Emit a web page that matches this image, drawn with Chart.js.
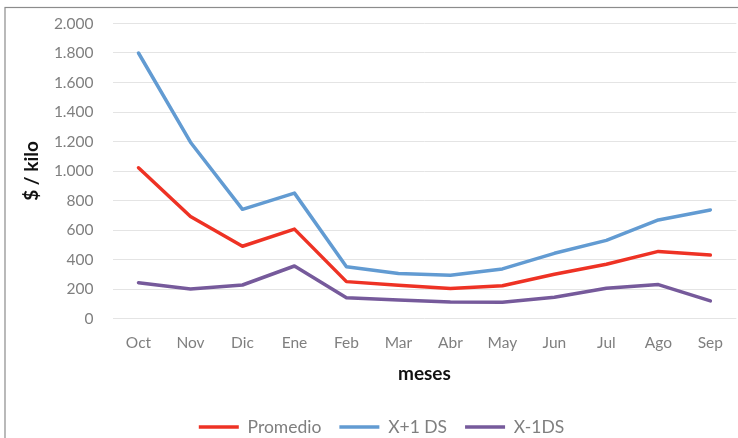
<!DOCTYPE html>
<html>
<head>
<meta charset="utf-8">
<script src="https://cdn.jsdelivr.net/npm/chart.js@4/dist/chart.umd.min.js"></script>
<style>
  html, body { margin: 0; padding: 0; background: #ffffff; }
  #wrap { position: relative; width: 738px; height: 438px; }
</style>
</head>
<body>
<div id="wrap"><canvas id="c" width="738" height="438"></canvas></div>
<script>
// Monthly price per kilo: mean and ±1 standard deviation
const meses = ['Oct', 'Nov', 'Dic', 'Ene', 'Feb', 'Mar', 'Abr', 'May', 'Jun', 'Jul', 'Ago', 'Sep'];
const promedio = [1022, 692, 490, 606, 250, 225, 203, 222, 300, 368, 455, 430];
const masUnaDS = [1800, 1195, 740, 850, 351, 305, 293, 336, 442, 530, 668, 736];
const menosUnaDS = [243, 200, 227, 356, 141, 125, 112, 110, 144, 205, 230, 119];
const yTickLabels = ['0', '200', '400', '600', '800', '1.000', '1.200', '1.400', '1.600', '1.800', '2.000'];

const tickColor = '#7f7f7f';
const fontFamily = 'Lato, "Open Sans", sans-serif';

// Thin gray frame around the chart
const framePlugin = {
  id: 'frame',
  afterDraw(chart) {
    const ctx = chart.ctx;
    ctx.save();
    ctx.strokeStyle = '#8c8c8c';
    ctx.lineWidth = 1.2;
    ctx.strokeRect(5, 7.5, 900, 600);
    ctx.restore();
  }
};

// Nudge the legend row a little to the right of the canvas centre
const legendShift = {
  id: 'legendShift',
  afterLayout(chart) {
    const lg = chart.legend;
    if (lg) { lg.left += 13; lg.right += 13; }
  }
};

const lineWidth = 3.5;

new Chart(document.getElementById('c'), {
  type: 'line',
  data: {
    labels: meses,
    datasets: [
      { label: 'Promedio', data: promedio, borderColor: '#ee3224', backgroundColor: '#ee3224', borderWidth: lineWidth },
      { label: 'X+1 DS', data: masUnaDS, borderColor: '#629bd2', backgroundColor: '#629bd2', borderWidth: lineWidth },
      { label: 'X-1DS', data: menosUnaDS, borderColor: '#765a9b', backgroundColor: '#765a9b', borderWidth: lineWidth }
    ]
  },
  options: {
    responsive: false,
    animation: false,
    devicePixelRatio: 1,
    layout: { padding: { top: 23.5, left: 0, right: 1, bottom: -7.75 } },
    elements: {
      line: { tension: 0, borderCapStyle: 'round', borderJoinStyle: 'round' },
      point: { radius: 0, hoverRadius: 0 }
    },
    plugins: {
      tooltip: { enabled: false },
      legend: {
        position: 'bottom',
        labels: {
          usePointStyle: true,
          pointStyle: 'line',
          pointStyleWidth: 40,
          padding: 18,
          color: tickColor,
          font: { family: fontFamily, size: 17.5 }
        }
      }
    },
    scales: {
      x: {
        offset: true,
        grid: { display: false, drawTicks: false },
        border: { display: false },
        ticks: { color: tickColor, padding: 15, font: { family: fontFamily, size: 15.5 }, maxRotation: 0 },
        title: {
          display: true, text: 'meses', color: '#111111',
          font: { family: fontFamily, size: 19, weight: 'bold' },
          padding: { top: 0, bottom: 15 }
        },
        afterFit(scale) { scale.height = 81.75; }
      },
      y: {
        min: 0, max: 2000,
        grid: { color: '#e4e4e4', lineWidth: 1, drawTicks: true, tickLength: 16, tickColor: 'rgba(0,0,0,0)' },
        border: { display: false },
        ticks: {
          stepSize: 200, color: tickColor, padding: 3,
          font: { family: fontFamily, size: 15.5 },
          callback: (v, i) => yTickLabels[i]
        },
        title: {
          display: true, text: '$ / kilo', color: '#111111',
          font: { family: fontFamily, size: 19, weight: 'bold' },
          padding: { top: 20, bottom: 0 }
        },
        afterFit(scale) { scale.width = 112.5; }
      }
    }
  },
  plugins: [framePlugin, legendShift]
});
</script>
</body>
</html>
